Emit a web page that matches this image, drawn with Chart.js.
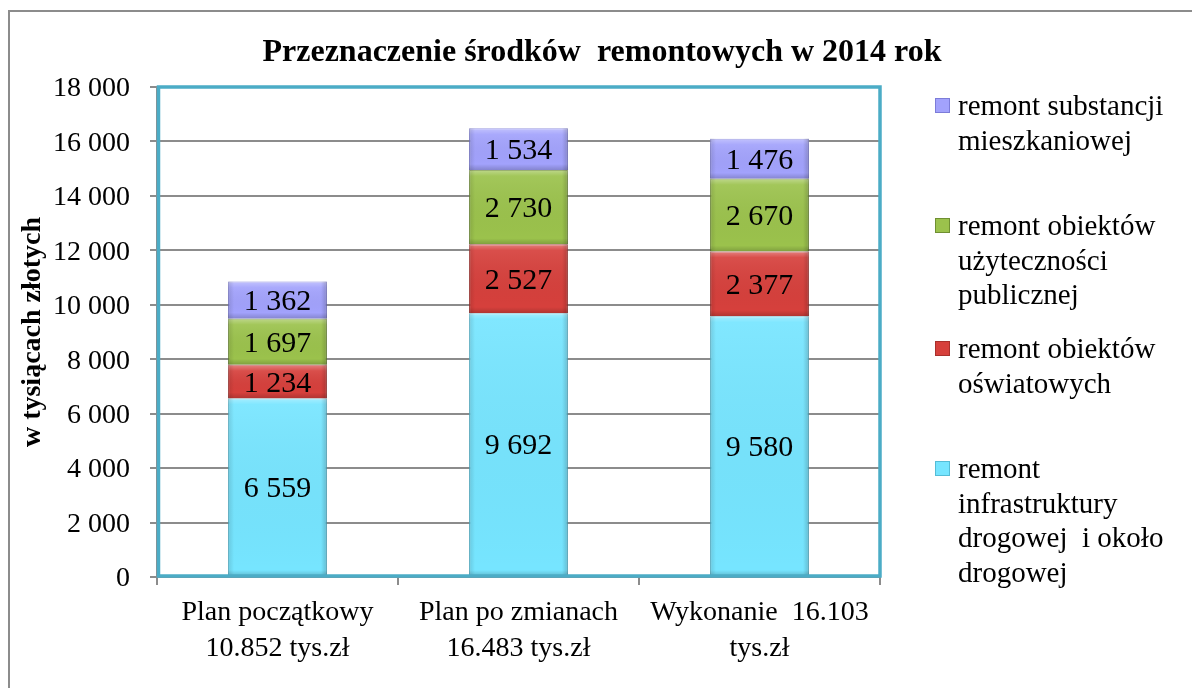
<!DOCTYPE html>
<html>
<head>
<meta charset="utf-8">
<script src="https://cdn.jsdelivr.net/npm/chart.js@4/dist/chart.umd.min.js"></script>
<style>
  body { margin: 0; background: #fff; font-family: "Liberation Serif", "Times New Roman", serif; }
  #wrap { position: relative; width: 1192px; height: 688px; overflow: hidden; }
  #frame { position: absolute; left: 8px; top: 10px; width: 1200px; height: 700px; border: 2px solid #8c8c8c; box-sizing: border-box; }
  canvas { position: absolute; left: 0; top: 0; }
  #title { position: absolute; left: 0; width: 1204px; top: 32px; text-align: center; font-weight: bold; font-size: 32px; white-space: pre; color: #000; }
  #legend { position: absolute; left: 933px; top: 88px; }
  .item { position: absolute; left: 0; width: 260px; font-size: 29px; line-height: 34.5px; color: #000; }
  .box { position: absolute; left: 2px; top: 10px; width: 13px; height: 13px; }
  .txt { position: absolute; left: 25px; top: 0; white-space: pre; }
</style>
</head>
<body>
<div id="wrap">
  <div id="frame"></div>
  <canvas id="chart" width="1192" height="688"></canvas>
  <div id="title">Przeznaczenie środków  remontowych w 2014 rok</div>
  <div id="legend"></div>
</div>
<script>
const categories = [
    ['Plan początkowy', '10.852 tys.zł'],
    ['Plan po zmianach', '16.483 tys.zł'],
    ['Wykonanie  16.103', 'tys.zł']
];
const seriesNames = [
    ['remont', 'infrastruktury', 'drogowej  i około', 'drogowej'],
    ['remont obiektów', 'oświatowych'],
    ['remont obiektów', 'użyteczności', 'publicznej'],
    ['remont substancji', 'mieszkaniowej']
];
const drogi = [6559, 9692, 9580];
const oswiata = [1234, 2527, 2377];
const uzytecznosc = [1697, 2730, 2670];
const mieszkania = [1362, 1534, 1476];
const yTicks = [0, 2000, 4000, 6000, 8000, 10000, 12000, 14000, 16000, 18000];

const colors = ['#76E5FF', '#D6403C', '#9BC24C', '#A2A2FC'];
const borders = ['#55BCD6', '#A8302C', '#6F8F32', '#7C7CD8'];

const fmt = v => String(v).replace(/\B(?=(\d{3})+(?!\d))/g, ' ');

// teal frame around plot area
const plotFrame = {
    id: 'plotFrame',
    afterDraw(chart) {
        const a = chart.chartArea;
        const c = chart.ctx;
        c.save();
        c.strokeStyle = '#4BACC6';
        c.lineWidth = 3.5;
        c.strokeRect(a.left + 1.5, a.top, a.right - a.left - 1.5, a.bottom - a.top - 1);
        c.restore();
    }
};

// shading on the bars + value labels in the middle of each segment
const valueLabels = {
    id: 'valueLabels',
    afterDatasetsDraw(chart) {
        const c = chart.ctx;
        c.save();
        chart.data.datasets.forEach((ds, i) => {
            chart.getDatasetMeta(i).data.forEach(bar => {
                const l = bar.x - bar.width / 2, r = bar.x + bar.width / 2;
                const t = Math.min(bar.y, bar.base), b = Math.max(bar.y, bar.base);
                let g = c.createLinearGradient(0, t, 0, b);
                g.addColorStop(0, 'rgba(255,255,255,0.35)');
                g.addColorStop(Math.min(0.5, 6 / (b - t)), 'rgba(255,255,255,0.08)');
                g.addColorStop(1 - Math.min(0.5, 6 / (b - t)), 'rgba(0,0,0,0.0)');
                g.addColorStop(1, 'rgba(0,0,0,0.18)');
                c.fillStyle = g;
                c.fillRect(l, t, r - l, b - t);
                g = c.createLinearGradient(l, 0, r, 0);
                g.addColorStop(0, 'rgba(0,0,0,0.12)');
                g.addColorStop(0.06, 'rgba(0,0,0,0)');
                g.addColorStop(0.94, 'rgba(0,0,0,0)');
                g.addColorStop(1, 'rgba(0,0,0,0.18)');
                c.fillStyle = g;
                c.fillRect(l, t, r - l, b - t);
            });
        });
        c.font = '30px "Liberation Serif"';
        c.fillStyle = '#000';
        c.textAlign = 'center';
        c.textBaseline = 'middle';
        chart.data.datasets.forEach((ds, i) => {
            chart.getDatasetMeta(i).data.forEach((bar, j) => {
                c.fillText(fmt(ds.data[j]), bar.x, (bar.y + bar.base) / 2 + 2);
            });
        });
        c.restore();
    }
};

const seriesData = [drogi, oswiata, uzytecznosc, mieszkania];
const datasets = seriesData.map((d, i) => ({
    label: seriesNames[i].join(' '),
    data: d,
    backgroundColor: colors[i],
    borderColor: borders[i],
    borderWidth: 1,
    barPercentage: 0.41,
    categoryPercentage: 1
}));

new Chart(document.getElementById('chart'), {
    type: 'bar',
    data: { labels: categories, datasets: datasets },
    options: {
        responsive: false,
        animation: false,
        layout: { padding: { top: 87, right: 312, left: 0, bottom: 0 } },
        plugins: { legend: { display: false }, title: { display: false }, tooltip: { enabled: false } },
        scales: {
            x: {
                stacked: true,
                afterFit(scale) { scale.height = 111; },
                grid: { drawOnChartArea: false, tickLength: 8, color: '#8c8c8c', lineWidth: 2 },
                border: { color: '#8c8c8c', width: 2 },
                ticks: { color: '#000', padding: 10, font: { family: 'Liberation Serif', size: 28, lineHeight: 1.28 } }
            },
            y: {
                stacked: true,
                min: 0,
                max: 18000,
                afterFit(scale) { scale.width = 157; },
                afterBuildTicks(scale) { scale.ticks = yTicks.map(v => ({ value: v })); },
                grid: { color: '#8c8c8c', lineWidth: 2, tickLength: 7 },
                border: { color: '#8c8c8c', width: 2 },
                ticks: { color: '#000', padding: 20, labelOffset: 2, callback: v => fmt(v), font: { family: 'Liberation Serif', size: 28 } },
                title: { display: true, text: 'w tysiącach złotych', color: '#000', padding: { top: 16, bottom: 0 }, font: { family: 'Liberation Serif', size: 28, weight: 'bold' } }
            }
        }
    },
    plugins: [plotFrame, valueLabels]
});

// legend on the right, top item = last series
const legend = document.getElementById('legend');
const slots = [0, 120, 243, 363];
for (let k = 0; k < 4; k++) {
    const i = 3 - k;
    const item = document.createElement('div');
    item.className = 'item';
    item.style.top = slots[k] + 'px';
    item.innerHTML = '<div class="box" style="background:' + colors[i] + ';border:1px solid ' + borders[i] + '"></div>' +
        '<div class="txt">' + seriesNames[i].join('\n') + '</div>';
    legend.appendChild(item);
}
</script>
</body>
</html>
